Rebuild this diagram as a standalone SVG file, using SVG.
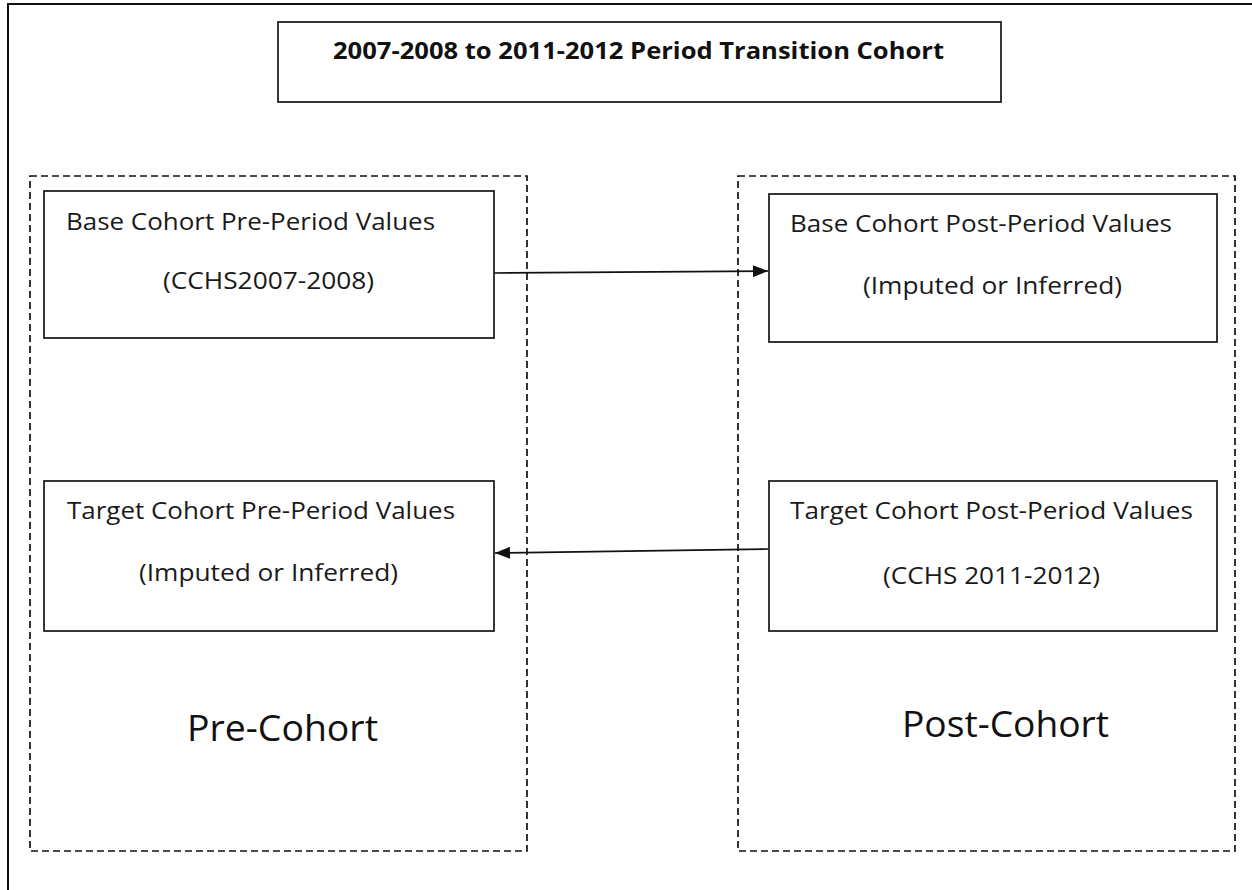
<svg xmlns="http://www.w3.org/2000/svg" width="1252" height="890" viewBox="0 0 1252 890">
<style>
  .frame{fill:none;stroke:#111;stroke-width:2}
  .box{fill:#fff;stroke:#222;stroke-width:1.8}
  .group{fill:none;stroke:#111;stroke-width:1.7;stroke-dasharray:7 4}
  .t{font-family:"Open Sans","Liberation Sans",sans-serif;fill:#1a1a1a;font-size:24px}
  .title{font-family:"Open Sans","Liberation Sans",sans-serif;fill:#111;font-size:24px;font-weight:bold}
  .big{font-family:"Open Sans","Liberation Sans",sans-serif;fill:#111;font-size:37px}
  .conn{stroke:#111;stroke-width:1.7;fill:none}
</style>
<defs>
  <marker id="ah" markerWidth="15" markerHeight="12" refX="15" refY="6" orient="auto" markerUnits="userSpaceOnUse">
    <path d="M0,0 L15,6 L0,12 Z" fill="#111"/>
  </marker>
</defs>
<rect width="1252" height="890" fill="#fff"/>
<rect class="frame" x="8" y="4" width="1260" height="900"/>

<g id="title">
  <rect class="box" x="278" y="22" width="723" height="80"/>
  <text class="title" x="333" y="59" textLength="611" lengthAdjust="spacingAndGlyphs">2007-2008 to 2011-2012 Period Transition Cohort</text>
</g>

<g id="pre-cohort">
  <rect class="group" x="30" y="176" width="497" height="675"/>
  <text class="big" x="187" y="741" textLength="191" lengthAdjust="spacingAndGlyphs">Pre-Cohort</text>
</g>

<g id="post-cohort">
  <rect class="group" x="738" y="176" width="497" height="675"/>
  <text class="big" x="902" y="737" textLength="207" lengthAdjust="spacingAndGlyphs">Post-Cohort</text>
</g>

<g id="base-pre">
  <rect class="box" x="44" y="191" width="450" height="147"/>
  <text class="t" x="66" y="230" textLength="369" lengthAdjust="spacingAndGlyphs">Base Cohort Pre-Period Values</text>
  <text class="t" x="163" y="289" textLength="211" lengthAdjust="spacingAndGlyphs">(CCHS2007-2008)</text>
</g>

<g id="base-post">
  <rect class="box" x="769" y="194" width="448" height="148"/>
  <text class="t" x="790" y="232" textLength="382" lengthAdjust="spacingAndGlyphs">Base Cohort Post-Period Values</text>
  <text class="t" x="863" y="294" textLength="259" lengthAdjust="spacingAndGlyphs">(Imputed or Inferred)</text>
</g>

<g id="target-pre">
  <rect class="box" x="44" y="481" width="450" height="150"/>
  <text class="t" x="67" y="519" textLength="388" lengthAdjust="spacingAndGlyphs">Target Cohort Pre-Period Values</text>
  <text class="t" x="139" y="581" textLength="259" lengthAdjust="spacingAndGlyphs">(Imputed or Inferred)</text>
</g>

<g id="target-post">
  <rect class="box" x="769" y="481" width="448" height="150"/>
  <text class="t" x="790" y="519" textLength="403" lengthAdjust="spacingAndGlyphs">Target Cohort Post-Period Values</text>
  <text class="t" x="883" y="584" textLength="217" lengthAdjust="spacingAndGlyphs">(CCHS 2011-2012)</text>
</g>

<g id="connectors">
  <line class="conn" x1="494" y1="273" x2="768" y2="271" marker-end="url(#ah)"/>
  <line class="conn" x1="768" y1="549" x2="495" y2="553" marker-end="url(#ah)"/>
</g>
</svg>
